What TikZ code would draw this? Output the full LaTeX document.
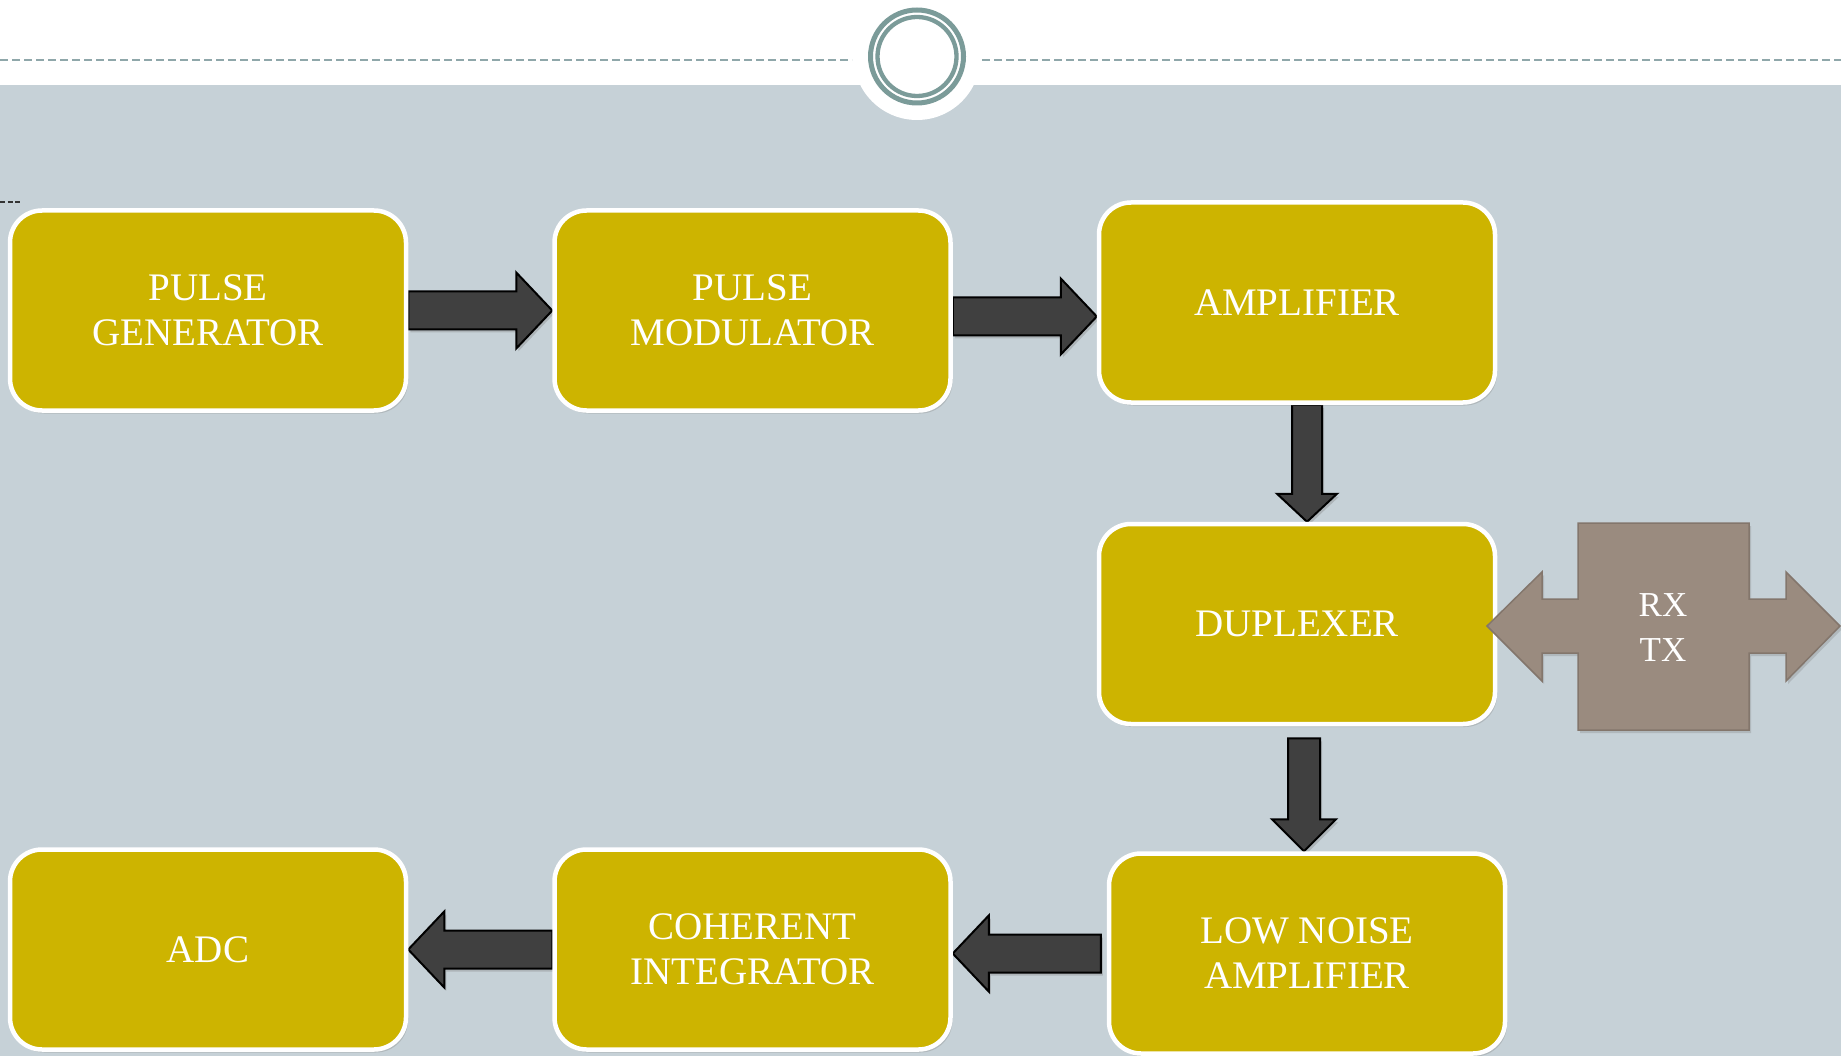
\documentclass[tikz,border=0pt]{standalone}
\usepackage{fontspec}
\setmainfont{Liberation Serif}
\usepackage{tikz}
\usetikzlibrary{calc}
\usetikzlibrary{positioning, shadows, backgrounds}

\definecolor{boxgold}{HTML}{CDB400}
\definecolor{slidegray}{HTML}{C6D1D7}
\definecolor{ringteal}{HTML}{7B9B99}
\definecolor{dashteal}{HTML}{8FA7AA}
\definecolor{arrowdark}{HTML}{404040}
\definecolor{rxbrown}{HTML}{9A8B7F}

\newcommand{\boxfont}{\fontsize{39}{45}\selectfont}

\begin{document}
\begin{tikzpicture}[x=1pt,y=-1pt,node distance=144pt,
  block/.style={rectangle, rounded corners=32pt, draw=white, line width=4.5pt,
    fill=boxgold, text=white, font=\boxfont, align=center,
    minimum width=396pt, minimum height=200pt,
    drop shadow={opacity=.3, shadow xshift=2pt, shadow yshift=-3pt}},
  shaftw/.store in=\shafthalf, headw/.store in=\headhalf, headl/.store in=\headlen,
  shaftw=19pt, headw=38pt, headl=36pt,
  flow/.style={draw=black, line width=2pt, fill=arrowdark, line join=miter,
    drop shadow={opacity=.35, shadow xshift=2pt, shadow yshift=-3pt},
    to path={let \p1=(\tikztostart), \p2=(\tikztotarget),
      \n1={atan2(\y2-\y1,\x2-\x1)}, \n2={veclen(\x2-\x1,\y2-\y1)},
      \n3={\n2-\headlen} in
      {[shift={(\p1)}, rotate=\n1]
        (0pt,\shafthalf) -- (\n3,\shafthalf) -- (\n3,\headhalf) -- (\n2,0pt)
        -- (\n3,-\headhalf) -- (\n3,-\shafthalf) -- (0pt,-\shafthalf) -- cycle}}}]
  \useasboundingbox (0,0) rectangle (1841,1056);

  % slide background
  \begin{scope}[on background layer]
    \fill[slidegray] (0,85) rectangle (1841,1056);
    \fill[white] (917,56.5) circle[radius=63.5pt];
    \draw[ringteal, line width=5pt] (917,56.5) circle[radius=46.5pt];
    \draw[ringteal, line width=4.3pt] (917,56.5) circle[radius=39.5pt];
    \draw[dashteal, line width=2pt, dash pattern=on 8pt off 4pt]
      (0,60) -- (852,60) (982,60) -- (1841,60);
    \draw[black!80, line width=1.2pt, dash pattern=on 5pt off 2.5pt] (0,202) -- (20,202);
  \end{scope}

  \node[block]  (pg)  at (208,310.5)            {PULSE\\GENERATOR};
  \node[block]  (pm)  [right=of pg]             {PULSE\\MODULATOR};
  \node[block]  (amp) [right=of pm, yshift=8pt] {AMPLIFIER};
  \node[block]  (dup) [below=117pt of amp]      {DUPLEXER};
  \node[block]  (lna) [below=125pt of dup, xshift=10pt] {LOW NOISE\\AMPLIFIER};
  \node[block]  (ci)  [left=154pt of lna, yshift=4pt]   {COHERENT\\INTEGRATOR};
  \node[block]  (adc) [left=of ci]              {ADC};

  \coordinate (pmout) at ([yshift=-6pt]pm.east);
  \coordinate (ampout) at ([xshift=10pt]amp.south);
  \coordinate (dupout) at ([xshift=7pt, yshift=-12pt]dup.south);

  \begin{scope}[on background layer]
    \path (pg.east)  edge[flow] (pm.west)
          (pmout)    edge[flow] (pmout -| amp.west)
          (ampout)   edge[flow, shaftw=15pt, headw=30pt, headl=28pt] (ampout |- dup.north)
          (dupout)   edge[flow, shaftw=16pt, headw=32pt, headl=32pt] (dupout |- lna.north)
          ([xshift=-6pt]lna.west) edge[flow] (lna.west -| ci.east)
          (ci.west)  edge[flow] (adc.east);
  \end{scope}

  % rx / tx callout
  \filldraw[fill=rxbrown, draw=rxbrown!85!black, line width=1.5pt,
    drop shadow={opacity=.3, shadow xshift=2pt, shadow yshift=-3pt}]
    (1578,523) -- (1749,523) -- (1749,599) -- (1786,599) -- (1786,572) -- (1840,626)
    -- (1786,681) -- (1786,653) -- (1749,653) -- (1749,730) -- (1578,730) -- (1578,653)
    -- (1542,653) -- (1542,681) -- (1487,626) -- (1542,572) -- (1542,599) -- (1578,599) -- cycle;
  \node[text=white, font=\fontsize{35}{45}\selectfont, align=center] (rxtx) at (1663,628) {RX\\TX};
\end{tikzpicture}
\end{document}
